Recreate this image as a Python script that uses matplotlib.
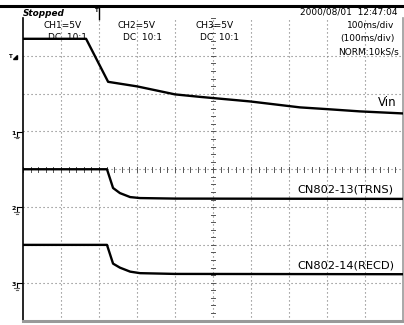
import matplotlib
matplotlib.use("Agg")
import matplotlib.pyplot as plt
import numpy as np

W, H = 404, 325

# Time in ms (100 ms/div, 10 div), voltages in V (5 V/div)
vin_t = [0, 166, 224, 300, 400, 466, 597, 729, 800, 887, 1000]
vin_v = [12.25, 12.25, 6.56, 5.96, 4.90, 4.57, 3.97, 3.18, 2.95, 2.65, 2.38]

trns_t = [0, 221, 237, 255, 282, 308, 400, 1000]
trns_v = [5.0, 5.0, 2.52, 1.85, 1.32, 1.19, 1.12, 1.08]

recd_t = [0, 221, 237, 255, 282, 308, 400, 1000]
recd_v = [5.0, 5.0, 2.52, 1.99, 1.46, 1.26, 1.16, 1.12]

# ground position of each channel in divisions (from bottom)
ch_ground = {"Vin": 5.0, "TRNS": 3.0, "RECD": 1.0}
volts_per_div = 5.0

fig = plt.figure(figsize=(W / 100, H / 100), dpi=100)
fig.patch.set_facecolor("white")

def fx(x):
    return x / W

def fy(y):
    return 1 - y / H

ax = fig.add_axes([fx(23), fy(320.5), (403 - 23) / W, (320.5 - 18) / H])
ax.set_xlim(0, 1000)
ax.set_ylim(0, 8)
ax.set_xticks([])
ax.set_yticks([])
ax.spines["top"].set_visible(False)
ax.spines["left"].set_color("black")
ax.spines["left"].set_linewidth(1.2)
ax.spines["right"].set_color("#999999")
ax.spines["right"].set_linewidth(1.2)
ax.spines["bottom"].set_color("#999999")
ax.spines["bottom"].set_linewidth(2.2)

# dotted grid
for i in range(1, 10):
    ax.axvline(i * 100, color="#777777", lw=0.8, ls=(0, (1, 2.6)), zorder=1)
for j in range(1, 8):
    ax.axhline(j, color="#777777", lw=0.8, ls=(0, (1, 2.6)), zorder=1)

# center axis ticks
for k in range(0, 51):
    xt = k * 20
    ax.plot([xt, xt], [4 - 0.06, 4 + 0.06], color="#555555", lw=0.7, zorder=1)
for k in range(0, 41):
    yt = k * 0.2
    ax.plot([500 - 5, 500 + 5], [yt, yt], color="#555555", lw=0.7, zorder=1)

def to_div(vals, key):
    return [ch_ground[key] + v / volts_per_div for v in vals]

ax.plot(vin_t, to_div(vin_v, "Vin"), color="black", lw=1.7, zorder=3)
ax.plot(trns_t, to_div(trns_v, "TRNS"), color="black", lw=1.7, zorder=3)
ax.plot(recd_t, to_div(recd_v, "RECD"), color="black", lw=1.7, zorder=3)

# top bar
fig.add_artist(plt.Line2D([0, 1], [fy(5.5), fy(5.5)], color="black", lw=2.2))

# trigger marker at top
fig.add_artist(plt.Line2D([fx(99), fx(99)], [fy(7), fy(19)], color="black", lw=1.0))
fig.text(fx(96.5), fy(11), "T", fontsize=4, ha="center", va="center", fontweight="bold")

fs = 6.5
fig.text(fx(23), fy(13.5), "Stopped", fontsize=6.4, fontweight="bold", style="italic",
         ha="left", va="center")
fig.text(fx(43), fy(25), "CH1=5V", fontsize=fs, ha="left", va="center")
fig.text(fx(48), fy(38), "DC  10:1", fontsize=fs, ha="left", va="center")
fig.text(fx(118), fy(25), "CH2=5V", fontsize=fs, ha="left", va="center")
fig.text(fx(123), fy(38), "DC  10:1", fontsize=fs, ha="left", va="center")
fig.text(fx(195), fy(25), "CH3=5V", fontsize=fs, ha="left", va="center")
fig.text(fx(200), fy(38), "DC  10:1", fontsize=fs, ha="left", va="center")
fig.text(fx(398), fy(12), "2000/08/01  12:47:04", fontsize=fs, ha="right", va="center")
fig.text(fx(394), fy(25), "100ms/div", fontsize=fs, ha="right", va="center")
fig.text(fx(395), fy(38), "(100ms/div)", fontsize=fs, ha="right", va="center")
fig.text(fx(399), fy(52), "NORM:10kS/s", fontsize=fs, ha="right", va="center")

fig.text(fx(397), fy(103), "Vin", fontsize=8.5, ha="right", va="center")
fig.text(fx(393), fy(190), "CN802-13(TRNS)", fontsize=8.2, ha="right", va="center")
fig.text(fx(394), fy(265), "CN802-14(RECD)", fontsize=8.2, ha="right", va="center")

# left markers
fig.text(fx(11), fy(57), "T", fontsize=4, ha="center", va="center", fontweight="bold")
fig.add_artist(plt.Polygon([[fx(13), fy(59)], [fx(17), fy(59)], [fx(17), fy(55)]],
                           closed=True, color="black"))
for gy, lab in [(132, "1"), (207, "2"), (283, "3")]:
    fig.text(fx(13.5), fy(gy + 1), lab, fontsize=4.5, ha="center", va="center", fontweight="bold")
    fig.add_artist(plt.Line2D([fx(16.5), fx(21.5)], [fy(gy), fy(gy)], color="black", lw=0.8))
    fig.add_artist(plt.Line2D([fx(16.5), fx(16.5)], [fy(gy), fy(gy + 5)], color="black", lw=0.8))
    fig.add_artist(plt.Line2D([fx(14.5), fx(18.5)], [fy(gy + 5), fy(gy + 5)], color="#666666", lw=0.8))
    fig.add_artist(plt.Line2D([fx(15.5), fx(17.5)], [fy(gy + 6.5), fy(gy + 6.5)], color="#666666", lw=0.8))

fig.savefig("out.png", dpi=100, facecolor="white")
